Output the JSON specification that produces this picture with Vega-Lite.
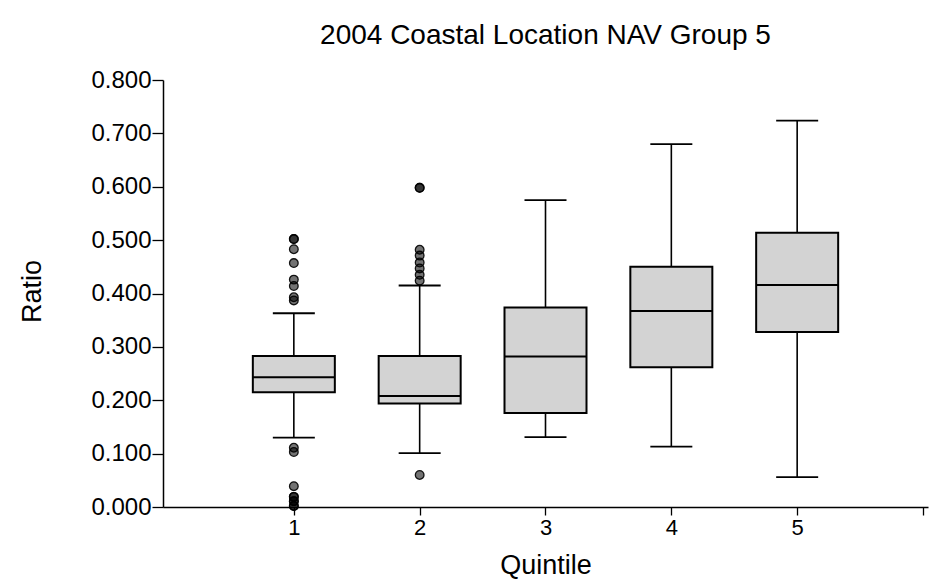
{
  "$schema": "https://vega.github.io/schema/vega-lite/v6.json",
  "width": 765,
  "height": 427,
  "autosize": {"type": "none"},
  "padding": {"left": 163, "top": 80, "right": 20, "bottom": 79},
  "background": "white",
  "config": {
    "view": {"stroke": null},
    "font": "Liberation Sans",
    "axis": {"grid": false, "domainColor": "#000", "tickColor": "#000", "labelColor": "#000", "titleColor": "#000", "labelFont": "Liberation Sans", "titleFont": "Liberation Sans", "titleFontWeight": "normal", "domainWidth": 1.5, "tickWidth": 1.3}
  },
  "title": {"text": "2004 Coastal Location NAV Group 5", "font": "Liberation Sans", "fontSize": 28, "fontWeight": "normal", "color": "#000", "anchor": "middle", "baseline": "alphabetic", "offset": 37, "dy": 41},
  "datasets": {
    "boxes": [
      {"quintile": 1, "lower": 0.130, "q1": 0.215, "median": 0.243, "q3": 0.283, "upper": 0.363},
      {"quintile": 2, "lower": 0.101, "q1": 0.194, "median": 0.208, "q3": 0.283, "upper": 0.415},
      {"quintile": 3, "lower": 0.131, "q1": 0.176, "median": 0.282, "q3": 0.374, "upper": 0.575},
      {"quintile": 4, "lower": 0.113, "q1": 0.262, "median": 0.367, "q3": 0.450, "upper": 0.680},
      {"quintile": 5, "lower": 0.056, "q1": 0.328, "median": 0.416, "q3": 0.514, "upper": 0.724}
    ],
    "outliers": [
      {"quintile": 1, "ratio": 0.502},
      {"quintile": 1, "ratio": 0.502},
      {"quintile": 1, "ratio": 0.483},
      {"quintile": 1, "ratio": 0.457},
      {"quintile": 1, "ratio": 0.426},
      {"quintile": 1, "ratio": 0.414},
      {"quintile": 1, "ratio": 0.393},
      {"quintile": 1, "ratio": 0.387},
      {"quintile": 1, "ratio": 0.111},
      {"quintile": 1, "ratio": 0.103},
      {"quintile": 1, "ratio": 0.039},
      {"quintile": 1, "ratio": 0.019},
      {"quintile": 1, "ratio": 0.019},
      {"quintile": 1, "ratio": 0.011},
      {"quintile": 1, "ratio": 0.011},
      {"quintile": 1, "ratio": 0.002},
      {"quintile": 1, "ratio": 0.002},
      {"quintile": 2, "ratio": 0.598},
      {"quintile": 2, "ratio": 0.598},
      {"quintile": 2, "ratio": 0.482},
      {"quintile": 2, "ratio": 0.471},
      {"quintile": 2, "ratio": 0.458},
      {"quintile": 2, "ratio": 0.447},
      {"quintile": 2, "ratio": 0.435},
      {"quintile": 2, "ratio": 0.424},
      {"quintile": 2, "ratio": 0.060}
    ]
  },
  "encoding": {
    "x": {
      "field": "quintile", "type": "quantitative", "title": "Quintile",
      "scale": {"domain": [0, 6], "nice": false, "zero": false},
      "axis": {"values": [1, 2, 3, 4, 5, 6], "labelExpr": "datum.value == 6 ? '' : datum.label", "labelFontSize": 22, "tickSize": 8, "labelPadding": 2, "titleFontSize": 27, "titleBaseline": "alphabetic", "titleY": 66}
    }
  },
  "layer": [
    {
      "data": {"name": "boxes"},
      "mark": {"type": "rule", "color": "#000", "strokeWidth": 1.6},
      "encoding": {
        "y": {"field": "lower", "type": "quantitative", "title": "Ratio",
          "scale": {"domain": [0, 0.8], "nice": false, "zero": false},
          "axis": {
            "values": [0, 0.05, 0.1, 0.15, 0.2, 0.25, 0.3, 0.35, 0.4, 0.45, 0.5, 0.55, 0.6, 0.65, 0.7, 0.75, 0.8],
            "labelExpr": "round(datum.value * 100) % 10 == 0 ? format(datum.value, '.3f') : ''",
            "tickSize": {"condition": {"test": "round(datum.value * 100) % 10 == 0", "value": 11}, "value": 5},
            "labelPadding": 1,
            "labelFontSize": 24,
            "titleFontSize": 27,
            "titleAngle": -90,
            "titleAlign": "center",
            "titleBaseline": "middle",
            "titleX": -131,
            "titleY": 211
          }
        },
        "y2": {"field": "q1"}
      }
    },
    {
      "data": {"name": "boxes"},
      "mark": {"type": "rule", "color": "#000", "strokeWidth": 1.6},
      "encoding": {
        "y": {"field": "q3", "type": "quantitative", "title": "Ratio"},
        "y2": {"field": "upper"}
      }
    },
    {
      "data": {"name": "boxes"},
      "mark": {"type": "bar", "size": 82, "fill": "#d3d3d3", "stroke": "#000", "strokeWidth": 2, "opacity": 1},
      "encoding": {
        "y": {"field": "q1", "type": "quantitative", "title": "Ratio"},
        "y2": {"field": "q3"}
      }
    },
    {
      "data": {"name": "boxes"},
      "mark": {"type": "tick", "orient": "horizontal", "size": 82, "thickness": 2, "color": "#000", "opacity": 1},
      "encoding": {
        "y": {"field": "median", "type": "quantitative", "title": "Ratio"}
      }
    },
    {
      "data": {"name": "boxes"},
      "mark": {"type": "tick", "orient": "horizontal", "size": 42, "thickness": 1.8, "color": "#000", "opacity": 1},
      "encoding": {
        "y": {"field": "lower", "type": "quantitative", "title": "Ratio"}
      }
    },
    {
      "data": {"name": "boxes"},
      "mark": {"type": "tick", "orient": "horizontal", "size": 42, "thickness": 1.8, "color": "#000", "opacity": 1},
      "encoding": {
        "y": {"field": "upper", "type": "quantitative", "title": "Ratio"}
      }
    },
    {
      "data": {"name": "outliers"},
      "mark": {"type": "point", "shape": "circle", "filled": true, "size": 75, "fill": "#000", "fillOpacity": 0.55, "stroke": "#000", "strokeWidth": 1.3, "strokeOpacity": 0.9, "opacity": 1},
      "encoding": {
        "y": {"field": "ratio", "type": "quantitative", "title": "Ratio"}
      }
    }
  ]
}
